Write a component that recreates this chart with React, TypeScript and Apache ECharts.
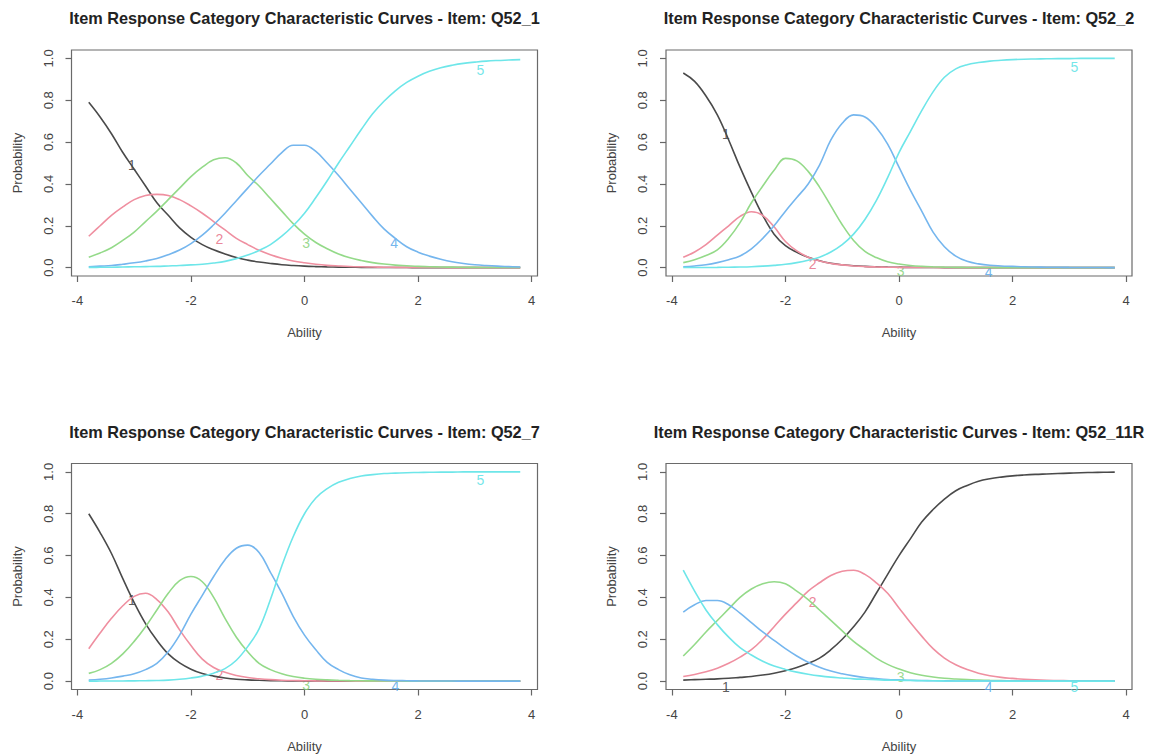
import React, { useEffect, useRef } from "react";
import * as echarts from "echarts";

// Ability grid (x values) shared by all curves
const THETA = [-3.8, -3.6, -3.4, -3.2, -3.0, -2.8, -2.6, -2.4, -2.2, -2.0, -1.8, -1.6, -1.4, -1.2, -1.0, -0.8, -0.6, -0.4, -0.2, 0.0,
  0.2, 0.4, 0.6, 0.8, 1.0, 1.2, 1.4, 1.6, 1.8, 2.0, 2.2, 2.4, 2.6, 2.8, 3.0, 3.2, 3.4, 3.6, 3.8];

const X_TICKS = [-4, -2, 0, 2, 4];
const Y_TICKS = [0, 0.2, 0.4, 0.6, 0.8, 1.0];
const CATEGORY_NAMES = ["1", "2", "3", "4", "5"];

const TITLES = [
  "Item Response Category Characteristic Curves - Item: Q52_1",
  "Item Response Category Characteristic Curves - Item: Q52_2",
  "Item Response Category Characteristic Curves - Item: Q52_7",
  "Item Response Category Characteristic Curves - Item: Q52_11R",
];

// Q52_1
const Q52_1_C1 = [0.79, 0.72, 0.64, 0.55, 0.47, 0.39, 0.31, 0.25, 0.19, 0.145, 0.11, 0.085, 0.065, 0.048, 0.036, 0.027, 0.02, 0.014, 0.01, 0.007,
  0.005, 0.0035, 0.0025, 0.0018, 0.0012, 0.0009, 0.0006, 0.0004, 0.0003, 0.0002, 0.0001, 0.0001, 0, 0, 0, 0, 0, 0, 0];
const Q52_1_C2 = [0.15, 0.2, 0.25, 0.29, 0.325, 0.345, 0.35, 0.345, 0.325, 0.295, 0.26, 0.22, 0.18, 0.14, 0.11, 0.083, 0.062, 0.045, 0.032, 0.023,
  0.016, 0.011, 0.008, 0.0055, 0.004, 0.0028, 0.002, 0.0014, 0.001, 0.0007, 0.0005, 0.0003, 0.0002, 0.0001, 0, 0, 0, 0, 0];
const Q52_1_C3 = [0.05, 0.07, 0.095, 0.13, 0.17, 0.22, 0.27, 0.325, 0.38, 0.435, 0.48, 0.515, 0.525, 0.5, 0.44, 0.39, 0.33, 0.27, 0.21, 0.16,
  0.12, 0.09, 0.065, 0.047, 0.034, 0.024, 0.017, 0.012, 0.009, 0.006, 0.0045, 0.003, 0.0022, 0.0015, 0.001, 0.0008, 0.0005, 0.0004, 0.0003];
const Q52_1_C4 = [0.004, 0.007, 0.01, 0.016, 0.023, 0.032, 0.044, 0.062, 0.084, 0.115, 0.155, 0.205, 0.26, 0.32, 0.38, 0.44, 0.495, 0.55, 0.585, 0.585,
  0.555, 0.5, 0.44, 0.375, 0.31, 0.245, 0.185, 0.14, 0.1, 0.074, 0.055, 0.04, 0.028, 0.02, 0.014, 0.01, 0.007, 0.005, 0.003];
const Q52_1_C5 = [0.001, 0.0015, 0.002, 0.003, 0.004, 0.005, 0.006, 0.008, 0.01, 0.013, 0.016, 0.022, 0.03, 0.043, 0.06, 0.082, 0.11, 0.15, 0.2, 0.26,
  0.335, 0.415, 0.5, 0.58, 0.66, 0.735, 0.795, 0.845, 0.885, 0.915, 0.938, 0.955, 0.967, 0.976, 0.982, 0.987, 0.99, 0.992, 0.994];
const Q52_1_LABELS = [[-3.04, 0.49], [-1.5, 0.135], [0.03, 0.12], [1.58, 0.12], [3.1, 0.945]];

// Q52_2
const Q52_2_C1 = [0.93, 0.89, 0.82, 0.73, 0.61, 0.48, 0.36, 0.25, 0.16, 0.105, 0.073, 0.05, 0.033, 0.021, 0.014, 0.009, 0.006, 0.004, 0.0025, 0.0016,
  0.001, 0.0006, 0.0004, 0.0002, 0.0001, 0, 0, 0, 0, 0, 0, 0, 0, 0, 0, 0, 0, 0, 0];
const Q52_2_C2 = [0.05, 0.075, 0.11, 0.155, 0.2, 0.245, 0.267, 0.25, 0.195, 0.125, 0.08, 0.05, 0.032, 0.02, 0.013, 0.008, 0.005, 0.0032, 0.002, 0.0013,
  0.0008, 0.0005, 0.0003, 0.0002, 0.0001, 0, 0, 0, 0, 0, 0, 0, 0, 0, 0, 0, 0, 0, 0];
const Q52_2_C3 = [0.024, 0.038, 0.058, 0.085, 0.14, 0.215, 0.31, 0.39, 0.465, 0.522, 0.51, 0.46, 0.385, 0.295, 0.205, 0.13, 0.078, 0.048, 0.028, 0.017,
  0.01, 0.006, 0.0037, 0.0022, 0.0013, 0.0008, 0.0005, 0.0003, 0.0002, 0.0001, 0, 0, 0, 0, 0, 0, 0, 0, 0];
const Q52_2_C4 = [0.004, 0.008, 0.014, 0.024, 0.038, 0.056, 0.09, 0.14, 0.2, 0.27, 0.335, 0.4, 0.49, 0.61, 0.69, 0.73, 0.72, 0.67, 0.59, 0.48,
  0.37, 0.27, 0.17, 0.1, 0.055, 0.03, 0.018, 0.011, 0.008, 0.006, 0.004, 0.003, 0.002, 0.0015, 0.001, 0.0008, 0.0005, 0.0003, 0.0002];
const Q52_2_C5 = [0.0003, 0.0005, 0.0008, 0.0012, 0.002, 0.003, 0.0045, 0.007, 0.011, 0.016, 0.024, 0.035, 0.05, 0.075, 0.11, 0.16, 0.23, 0.32, 0.43, 0.55,
  0.65, 0.75, 0.84, 0.91, 0.95, 0.97, 0.98, 0.987, 0.991, 0.994, 0.996, 0.997, 0.998, 0.999, 0.999, 1, 1, 1, 1];
const Q52_2_LABELS = [[-3.05, 0.64], [-1.52, 0.016], [0.03, -0.016], [1.58, -0.02], [3.09, 0.96]];

// Q52_7
const Q52_7_C1 = [0.8, 0.71, 0.61, 0.49, 0.375, 0.275, 0.195, 0.13, 0.087, 0.057, 0.036, 0.024, 0.015, 0.009, 0.006, 0.004, 0.0025, 0.0016, 0.001, 0.0006,
  0.0004, 0.0002, 0.0001, 0, 0, 0, 0, 0, 0, 0, 0, 0, 0, 0, 0, 0, 0, 0, 0];
const Q52_7_C2 = [0.155, 0.23, 0.3, 0.36, 0.405, 0.42, 0.39, 0.33, 0.245, 0.17, 0.105, 0.065, 0.042, 0.027, 0.017, 0.011, 0.007, 0.0045, 0.003, 0.002,
  0.0012, 0.0008, 0.0005, 0.0003, 0.0002, 0.0001, 0, 0, 0, 0, 0, 0, 0, 0, 0, 0, 0, 0, 0];
const Q52_7_C3 = [0.037, 0.055, 0.085, 0.13, 0.19, 0.26, 0.34, 0.42, 0.48, 0.5, 0.475, 0.4, 0.3, 0.21, 0.14, 0.085, 0.055, 0.035, 0.022, 0.014,
  0.009, 0.006, 0.004, 0.0025, 0.0015, 0.001, 0.0006, 0.0004, 0.0002, 0.0001, 0, 0, 0, 0, 0, 0, 0, 0, 0];
const Q52_7_C4 = [0.005, 0.009, 0.015, 0.024, 0.035, 0.055, 0.085, 0.14, 0.22, 0.32, 0.41, 0.5, 0.58, 0.635, 0.65, 0.615, 0.52, 0.42, 0.31, 0.22,
  0.15, 0.09, 0.055, 0.03, 0.015, 0.009, 0.005, 0.003, 0.002, 0.001, 0.0007, 0.0004, 0.0003, 0.0002, 0.0001, 0, 0, 0, 0];
const Q52_7_C5 = [0.0002, 0.0003, 0.0005, 0.0008, 0.0013, 0.002, 0.003, 0.005, 0.009, 0.015, 0.024, 0.038, 0.06, 0.1, 0.165, 0.25, 0.39, 0.55, 0.69, 0.8,
  0.875, 0.92, 0.95, 0.968, 0.98, 0.987, 0.992, 0.994, 0.996, 0.997, 0.998, 0.999, 0.999, 1, 1, 1, 1, 1, 1];
const Q52_7_LABELS = [[-3.04, 0.39], [-1.5, 0.03], [0.03, -0.02], [1.6, -0.024], [3.1, 0.96]];

// Q52_11R
const Q52_11R_C1 = [0.005, 0.007, 0.009, 0.011, 0.014, 0.018, 0.022, 0.029, 0.038, 0.05, 0.065, 0.085, 0.11, 0.15, 0.2, 0.26, 0.33, 0.42, 0.51, 0.6,
  0.68, 0.76, 0.82, 0.87, 0.91, 0.935, 0.955, 0.967, 0.975, 0.981, 0.985, 0.988, 0.99, 0.992, 0.994, 0.996, 0.997, 0.998, 0.999];
const Q52_11R_C2 = [0.022, 0.032, 0.045, 0.062, 0.085, 0.115, 0.15, 0.2, 0.26, 0.32, 0.375, 0.43, 0.47, 0.505, 0.525, 0.53, 0.51, 0.47, 0.42, 0.35,
  0.28, 0.215, 0.155, 0.11, 0.078, 0.055, 0.038, 0.026, 0.018, 0.013, 0.009, 0.006, 0.004, 0.003, 0.002, 0.0015, 0.001, 0.0007, 0.0005];
const Q52_11R_C3 = [0.12, 0.175, 0.235, 0.29, 0.345, 0.4, 0.44, 0.465, 0.475, 0.465, 0.43, 0.39, 0.34, 0.29, 0.24, 0.19, 0.15, 0.11, 0.08, 0.058,
  0.04, 0.028, 0.02, 0.014, 0.01, 0.007, 0.005, 0.0035, 0.0025, 0.0018, 0.0012, 0.0008, 0.0005, 0.0003, 0.0002, 0.0001, 0, 0, 0];
const Q52_11R_C4 = [0.33, 0.365, 0.385, 0.385, 0.365, 0.325, 0.28, 0.235, 0.195, 0.155, 0.12, 0.09, 0.066, 0.048, 0.035, 0.025, 0.017, 0.012, 0.008, 0.006,
  0.004, 0.003, 0.002, 0.0013, 0.0009, 0.0006, 0.0004, 0.0003, 0.0002, 0.0001, 0, 0, 0, 0, 0, 0, 0, 0, 0];
const Q52_11R_C5 = [0.53, 0.43, 0.34, 0.27, 0.21, 0.16, 0.125, 0.095, 0.072, 0.056, 0.043, 0.033, 0.025, 0.019, 0.015, 0.011, 0.009, 0.007, 0.005, 0.004,
  0.003, 0.002, 0.0015, 0.001, 0.0008, 0.0006, 0.0004, 0.0003, 0.0002, 0.0001, 0, 0, 0, 0, 0, 0, 0, 0, 0];
const Q52_11R_LABELS = [[-3.05, -0.027], [-1.52, 0.38], [0.03, 0.02], [1.58, -0.03], [3.09, -0.027]];

const PANELS = [
  { curves: [Q52_1_C1, Q52_1_C2, Q52_1_C3, Q52_1_C4, Q52_1_C5], labels: Q52_1_LABELS },
  { curves: [Q52_2_C1, Q52_2_C2, Q52_2_C3, Q52_2_C4, Q52_2_C5], labels: Q52_2_LABELS },
  { curves: [Q52_7_C1, Q52_7_C2, Q52_7_C3, Q52_7_C4, Q52_7_C5], labels: Q52_7_LABELS },
  { curves: [Q52_11R_C1, Q52_11R_C2, Q52_11R_C3, Q52_11R_C4, Q52_11R_C5], labels: Q52_11R_LABELS },
];

const LINE_COLORS = ["#4a4a4a", "#ef8fa0", "#94da89", "#75b6ee", "#6ee6e9"];
const TEXT_COLORS = ["#333333", "#e5677f", "#7fd074", "#4fa2e8", "#4fe0e4"];
const FONT = "Arial, 'Liberation Sans', sans-serif";

const BOX_LEFT = [71.5, 666, 71.5, 666];
const BOX_TOP = [50, 50, 463.5, 463.5];
const BOX_W = 466;
const BOX_H = 226;

export default function App() {
  const ref = useRef<HTMLDivElement>(null);
  useEffect(() => {
    if (!ref.current) return;
    const chart = echarts.init(ref.current, null, { renderer: "svg" });
    const grid: any[] = [];
    const xAxis: any[] = [];
    const yAxis: any[] = [];
    const series: any[] = [];
    const title: any[] = [];
    PANELS.forEach((p, i) => {
      grid.push({
        left: BOX_LEFT[i], top: BOX_TOP[i], width: BOX_W, height: BOX_H,
        show: true, borderColor: "#6a6a6a", borderWidth: 1.2, backgroundColor: "transparent",
      });
      title.push({
        text: TITLES[i], left: BOX_LEFT[i] + BOX_W / 2, top: BOX_TOP[i] - 40, textAlign: "center", padding: 0,
        textStyle: { fontSize: 16.3, fontWeight: "bold", fontFamily: FONT, color: "#222" },
      });
      xAxis.push({
        gridIndex: i, type: "value", min: -4.104, max: 4.104,
        axisLine: { show: false, onZero: false }, splitLine: { show: false },
        axisTick: { show: true, inside: false, length: 6, customValues: X_TICKS, lineStyle: { color: "#666", width: 1.2 } },
        axisLabel: { customValues: X_TICKS, margin: 18, fontSize: 13, color: "#444", fontFamily: FONT },
        name: "Ability", nameLocation: "middle", nameGap: 50,
        nameTextStyle: { fontSize: 13, color: "#444", fontFamily: FONT },
      });
      yAxis.push({
        gridIndex: i, type: "value", min: -0.04, max: 1.04,
        axisLine: { show: false, onZero: false }, splitLine: { show: false },
        axisTick: { show: true, inside: false, length: 6, customValues: Y_TICKS, lineStyle: { color: "#666", width: 1.2 } },
        axisLabel: {
          customValues: Y_TICKS, margin: 17, rotate: 90, fontSize: 13, color: "#444", fontFamily: FONT,
          formatter: (v: number) => v.toFixed(1),
        },
        name: "Probability", nameLocation: "middle", nameGap: 48, nameRotate: 90,
        nameTextStyle: { fontSize: 13, color: "#444", fontFamily: FONT },
      });
      p.curves.forEach((vals, k) => {
        series.push({
          type: "line", xAxisIndex: i, yAxisIndex: i, showSymbol: false, symbol: "none",
          smooth: 0.4, silent: true,
          lineStyle: { color: LINE_COLORS[k], width: 1.6 },
          data: THETA.map((t, j) => [t, vals[j]]),
        });
      });
      series.push({
        type: "scatter", xAxisIndex: i, yAxisIndex: i, symbolSize: 1, silent: true,
        itemStyle: { color: "rgba(0,0,0,0)" },
        data: p.labels.map((pt, k) => ({
          value: pt, name: CATEGORY_NAMES[k],
          label: { show: true, position: "inside", formatter: CATEGORY_NAMES[k], color: TEXT_COLORS[k], fontSize: 14, fontFamily: FONT },
        })),
      });
    });
    chart.setOption({ animation: false, backgroundColor: "#ffffff", title, grid, xAxis, yAxis, series });
    return () => chart.dispose();
  }, []);
  return <div ref={ref} style={{ position: "absolute", left: 0, top: 0, width: 1154, height: 755 }} />;
}
